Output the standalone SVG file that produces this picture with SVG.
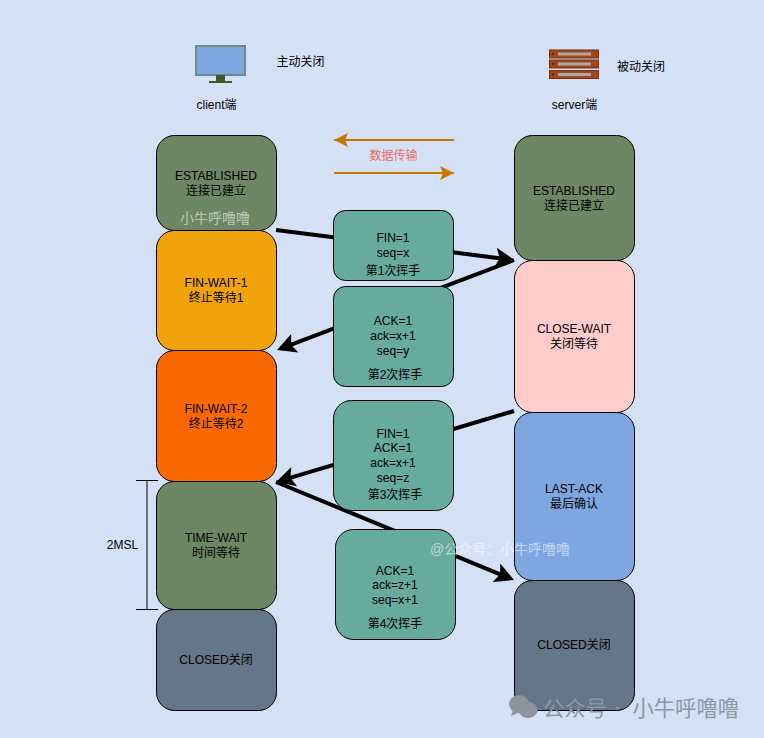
<svg xmlns="http://www.w3.org/2000/svg" width="764" height="738" viewBox="0 0 764 738">
<style>
text{font-family:"Liberation Sans","Noto Sans CJK SC",sans-serif;font-size:12px;fill:#000;text-anchor:middle}
.n{stroke:#000;stroke-width:1}
.g{fill:#6d8764}.s{fill:#647687}.t{fill:#67ab9f}
.c{stroke:#000;stroke-width:4;fill:none}
.d{stroke:#c77700;stroke-width:2;fill:none}
.w{font-size:14px;fill:#fff;fill-opacity:.55}
.b{font-size:21.300px;fill:#8c97a4;text-anchor:start}
</style>
<defs>
<path id="kh" d="M-19,-10 L0,0 L-19,10 L-15,0Z" fill="#000"/>
<marker id="o" viewBox="0 0 20 20" markerUnits="userSpaceOnUse" markerWidth="20" markerHeight="20" refX="15" refY="10" orient="auto"><path d="M1,3 L15,10 L1,17 L4,10Z" fill="#c77700"/></marker>
</defs>
<rect width="764" height="738" fill="#d4e1f5"/>
<g id="connectors">
<path class="c" d="M276,230 L505,258.900"/><use href="#kh" transform="translate(514.500,260) rotate(7.200)"/>
<path class="c" d="M514,260 L286,346.600"/><use href="#kh" transform="translate(277,350) rotate(159.200)"/>
<path class="c" d="M514,411 L285,479.300"/><use href="#kh" transform="translate(276,482) rotate(163.400)"/>
<path class="c" d="M276,482 L505,576.300"/><use href="#kh" transform="translate(514,580) rotate(22.400)"/>
<path class="d" d="M454,140 L334,140" marker-end="url(#o)"/>
<path class="d" d="M334,173 L454,173" marker-end="url(#o)"/>
<path stroke="#000" fill="none" d="M136,480.500H158M147,480.500V609.500M136,609.500H158"/>
</g>
<g id="client-icon">
<rect x="196" y="46" width="49" height="29" fill="#7ea6e0" stroke="#6d8a8a" stroke-width="2"/>
<rect x="216" y="75" width="9" height="6" fill="#3a5a2a"/>
<rect x="209" y="81" width="23" height="2" fill="#3a5a2a"/>
</g>
<g id="server-icon" fill="#a0481c" stroke="#7a2d10">
<rect x="549.500" y="50" width="49" height="8"/><rect x="549.500" y="60" width="49" height="8"/><rect x="549.500" y="70.500" width="49" height="8"/>
<g fill="#a8a8a8" stroke="none"><rect x="558" y="52.500" width="33" height="3"/><rect x="558" y="62.500" width="33" height="3"/><rect x="558" y="73" width="33" height="3"/></g>
<g fill="#6a2208" stroke="none"><circle cx="553" cy="54" r="1.200"/><circle cx="553" cy="64" r="1.200"/><circle cx="553" cy="74.500" r="1.200"/></g>
</g>
<g id="labels">
<text x="300.500" y="66">主动关闭</text>
<text x="641" y="71">被动关闭</text>
<text x="216.500" y="109">client端</text>
<text x="574.500" y="109">server端</text>
<text x="393.500" y="160" style="fill:#ea6b66">数据传输</text>
<text x="122.500" y="549">2MSL</text>
</g>
<g id="c-established"><rect class="n g" x="156.500" y="135.500" width="120" height="95" rx="18"/><text x="216" y="180">ESTABLISHED</text><text x="216" y="195">连接已建立</text></g>
<g id="c-finwait1"><rect class="n" fill="#f0a30a" x="156.500" y="230.500" width="120" height="120" rx="18"/><text x="216" y="287">FIN-WAIT-1</text><text x="216" y="302">终止等待1</text></g>
<g id="c-finwait2"><rect class="n" fill="#fa6800" x="156.500" y="350.500" width="120" height="131" rx="18"/><text x="216" y="413">FIN-WAIT-2</text><text x="216" y="428">终止等待2</text></g>
<g id="c-timewait"><rect class="n g" x="156.500" y="481.500" width="120" height="128" rx="18"/><text x="216" y="542">TIME-WAIT</text><text x="216" y="557">时间等待</text></g>
<g id="c-closed"><rect class="n s" x="156.500" y="609.500" width="120" height="101" rx="18"/><text x="216" y="664">CLOSED关闭</text></g>
<g id="s-established"><rect class="n g" x="514.500" y="135.500" width="120" height="125" rx="18"/><text x="574" y="195">ESTABLISHED</text><text x="574" y="210">连接已建立</text></g>
<g id="s-closewait"><rect class="n" fill="#ffcccc" x="514.500" y="260.500" width="120" height="152" rx="18"/><text x="574" y="333">CLOSE-WAIT</text><text x="574" y="348">关闭等待</text></g>
<g id="s-lastack"><rect class="n" fill="#7ea6e0" x="514.500" y="412.500" width="120" height="168" rx="18"/><text x="574" y="493">LAST-ACK</text><text x="574" y="508">最后确认</text></g>
<g id="s-closed"><rect class="n s" x="514.500" y="580.500" width="120" height="130" rx="18"/><text x="574" y="649">CLOSED关闭</text></g>
<g id="m1"><rect class="n t" x="333.500" y="210.500" width="120" height="70" rx="12"/><text x="393" y="242">FIN=1</text><text x="393" y="257">seq=x</text><text x="393" y="275">第1次挥手</text></g>
<g id="m2"><rect class="n t" x="333.500" y="286.500" width="120" height="100" rx="12"/><text x="393" y="325">ACK=1</text><text x="393" y="340">ack=x+1</text><text x="393" y="355">seq=y</text><text x="395" y="379">第2次挥手</text></g>
<g id="m3"><rect class="n t" x="333.500" y="400.500" width="120" height="110" rx="18"/><text x="393" y="438">FIN=1</text><text x="393" y="452">ACK=1</text><text x="393" y="467">ack=x+1</text><text x="393" y="482">seq=z</text><text x="395" y="499">第3次挥手</text></g>
<g id="m4"><rect class="n t" x="335.500" y="529.500" width="120" height="110" rx="18"/><text x="395" y="575">ACK=1</text><text x="395" y="589">ack=z+1</text><text x="395" y="604">seq=x+1</text><text x="395" y="628">第4次挥手</text></g>
<g id="watermarks">
<text class="w" x="215" y="223">小牛呼噜噜</text>
<text class="w" x="500" y="554">@公众号：小牛呼噜噜</text>
<g fill="#8c949e"><ellipse cx="519" cy="704" rx="10" ry="9"/><path d="M513,710l-2,6l7,-3z"/><ellipse cx="528" cy="710" rx="9.500" ry="8"/></g>
<text class="b" x="543" y="716">公众号</text>
<text class="b" x="632.500" y="716">小牛呼噜噜</text>
<circle cx="617.500" cy="708" r="1.500" fill="#8c97a4"/>
</g>
</svg>
